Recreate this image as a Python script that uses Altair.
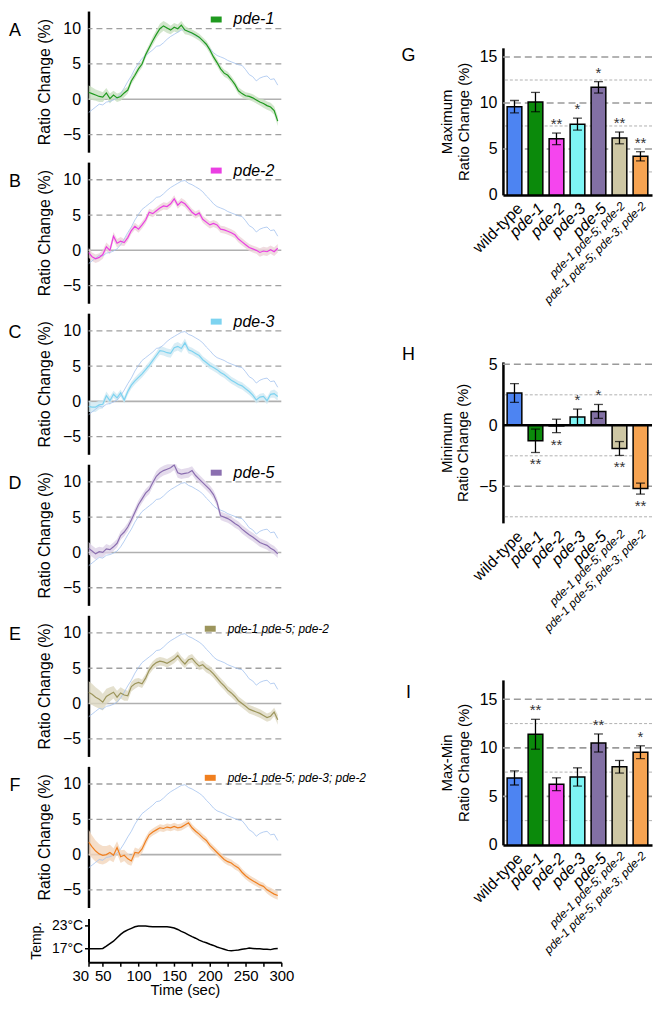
import altair as alt
import pandas as pd

FONT = "Liberation Sans"

# ---------------- time-series data (A-F) ----------------
time_s = list(range(30, 300, 5))

wild_type = [-1.9, -1.5, -1.1, -0.7, -0.8, -0.4, -0.3, -0.1, 0.2, 0.8,
             1.6, 2.5, 3.3, 4.3, 5.1, 5.8, 6.2, 6.6, 7.0, 7.5,
             7.6, 8.0, 8.5, 8.9, 9.2, 9.5, 9.8, 9.9, 9.5, 9.3,
             9.0, 8.7, 8.3, 7.7, 7.2, 6.6, 6.2, 6.0, 5.8, 5.5,
             5.3, 5.1, 4.9, 4.8, 4.2, 3.5, 3.2, 2.6, 3.0, 3.2,
             3.3, 2.8, 2.9, 2.0]

pde1 = [1.0, 0.8, 0.6, 0.4, 0.3, 0.9, 0.1, 0.6, 0.2, 0.4,
        0.9, 1.3, 2.6, 3.4, 4.3, 5.0, 6.3, 7.3, 8.3, 9.2,
        10.0, 10.4, 10.1, 9.8, 10.2, 10.0, 10.5, 9.8, 9.6, 9.4,
        9.1, 8.8, 8.3, 7.8, 7.0, 6.0, 5.2, 4.3, 3.7, 3.4,
        2.8, 2.1, 1.2, 0.8, 0.5, 0.4, 0.2, -0.1, -0.4, -0.6,
        -0.9, -1.1, -1.6, -3.1]
sem_pde1 = [1.0, 0.9, 0.8, 0.8, 0.7, 0.7, 0.7, 0.6, 0.6, 0.6,
            0.6, 0.5, 0.5, 0.5, 0.5, 0.5, 0.5, 0.5, 0.6, 0.6,
            0.7, 0.7, 0.7, 0.6, 0.6, 0.6, 0.6, 0.6, 0.5, 0.5,
            0.5, 0.5, 0.5, 0.5, 0.5, 0.5, 0.5, 0.5, 0.5, 0.5,
            0.5, 0.5, 0.5, 0.5, 0.5, 0.5, 0.5, 0.5, 0.5, 0.6,
            0.6, 0.6, 0.6, 0.7]

pde2 = [-0.3, -0.9, -1.2, -1.0, -0.6, 0.5, 0.0, 2.0, 1.0, 1.3,
        1.1, 1.8, 2.8, 3.4, 3.0, 3.6, 4.3, 5.4, 5.2, 5.6,
        6.0, 6.3, 6.2, 6.6, 7.3, 6.4, 6.9, 6.6, 6.0, 5.4,
        5.0, 5.3, 4.4, 4.0, 3.6, 3.8, 3.6, 3.0, 2.9, 2.7,
        2.5, 2.2, 1.6, 1.2, 0.8, 0.4, 0.2, 0.0, -0.3, -0.1,
        -0.2, 0.1, -0.2, 0.3]
sem_pde2 = [0.7, 0.6, 0.6, 0.6, 0.6, 0.6, 0.6, 0.6, 0.6, 0.6,
            0.5, 0.5, 0.5, 0.5, 0.5, 0.5, 0.5, 0.5, 0.5, 0.5,
            0.5, 0.5, 0.5, 0.5, 0.5, 0.5, 0.5, 0.5, 0.5, 0.5,
            0.5, 0.5, 0.5, 0.5, 0.5, 0.5, 0.5, 0.5, 0.5, 0.5,
            0.5, 0.5, 0.5, 0.5, 0.5, 0.5, 0.5, 0.5, 0.6, 0.6,
            0.6, 0.6, 0.6, 0.6]

pde3 = [-0.7, -0.8, -0.8, -0.5, -0.4, 0.8, 0.1, 1.0, 0.5, 1.2,
        0.2, 1.4, 2.3, 2.9, 3.4, 3.9, 4.5, 5.1, 5.8, 6.5,
        7.2, 7.1, 6.9, 6.8, 7.6, 7.8, 7.5, 8.3, 7.3, 7.1,
        6.8, 6.5, 5.9, 5.5, 5.1, 4.8, 4.5, 4.1, 3.8, 3.4,
        3.0, 2.7, 2.4, 2.2, 1.8, 1.4, 0.9, 0.2, 0.6, 0.7,
        0.1, 1.0, 1.1, 0.7]
sem_pde3 = [0.8, 0.7, 0.7, 0.6, 0.6, 0.6, 0.6, 0.5, 0.5, 0.5,
            0.5, 0.5, 0.5, 0.5, 0.5, 0.5, 0.5, 0.5, 0.5, 0.5,
            0.6, 0.6, 0.6, 0.6, 0.6, 0.6, 0.6, 0.6, 0.5, 0.5,
            0.5, 0.5, 0.5, 0.5, 0.5, 0.5, 0.5, 0.5, 0.5, 0.5,
            0.5, 0.5, 0.5, 0.5, 0.5, 0.5, 0.5, 0.5, 0.5, 0.5,
            0.5, 0.5, 0.6, 0.6]

pde5 = [0.6, 0.2, -0.2, 0.1, 0.0, 0.5, 0.4, 0.8, 1.3, 2.4,
        2.9, 3.6, 4.6, 5.7, 6.8, 7.6, 8.4, 8.9, 9.9, 10.8,
        11.3, 11.6, 11.8, 12.0, 12.4, 11.3, 11.1, 11.2, 11.3, 11.6,
        10.9, 10.4, 9.9, 9.4, 8.9, 8.2, 7.1, 5.2, 5.0, 4.8,
        4.5, 4.1, 3.8, 3.3, 2.9, 2.5, 2.2, 1.8, 1.4, 1.2,
        1.0, 0.6, 0.3, -0.2]
sem_pde5 = [0.9, 0.8, 0.8, 0.7, 0.7, 0.7, 0.6, 0.6, 0.6, 0.6,
            0.6, 0.6, 0.6, 0.6, 0.6, 0.6, 0.6, 0.6, 0.6, 0.7,
            0.7, 0.7, 0.7, 0.7, 0.7, 0.7, 0.7, 0.7, 0.7, 0.6,
            0.6, 0.6, 0.6, 0.6, 0.6, 0.6, 0.6, 0.6, 0.6, 0.6,
            0.6, 0.6, 0.6, 0.6, 0.6, 0.6, 0.6, 0.6, 0.6, 0.6,
            0.6, 0.6, 0.6, 0.6]

pde1_pde5_pde2 = [1.6, 1.3, 0.9, 0.6, 0.2, 1.0, 1.3, 1.6, 0.9, 1.5,
                  1.2, 1.1, 2.4, 2.8, 3.0, 2.8, 3.6, 4.7, 5.4, 5.8,
                  6.0, 5.9, 5.7, 6.0, 6.3, 6.8, 6.1, 5.6, 6.2, 6.4,
                  5.8, 5.3, 5.5, 5.0, 4.7, 4.2, 3.6, 3.0, 2.5, 1.9,
                  1.5, 1.0, 0.4, 0.0, -0.4, -0.8, -1.0, -1.2, -1.4, -1.7,
                  -2.0, -1.8, -1.2, -2.3]
sem_triple = [1.6, 1.5, 1.4, 1.3, 1.2, 1.1, 1.0, 0.9, 0.9, 0.8,
              0.8, 0.7, 0.7, 0.7, 0.6, 0.6, 0.6, 0.6, 0.6, 0.6,
              0.6, 0.6, 0.6, 0.6, 0.6, 0.6, 0.6, 0.6, 0.6, 0.6,
              0.6, 0.6, 0.6, 0.6, 0.6, 0.6, 0.6, 0.6, 0.6, 0.6,
              0.6, 0.6, 0.6, 0.6, 0.6, 0.6, 0.6, 0.6, 0.6, 0.6,
              0.6, 0.6, 0.6, 0.7]

pde1_pde5_pde3_pde2 = [1.8, 1.1, 0.5, 0.1, -0.1, 0.0, 0.3, -0.1, 1.0, -0.3,
                       -0.1, -0.6, -0.9, 0.3, 0.2, 0.8, 1.9, 2.8, 3.2, 3.5,
                       3.8, 3.7, 3.9, 3.8, 4.0, 3.8, 3.9, 4.2, 4.5, 3.8,
                       3.3, 2.9, 2.4, 2.0, 1.3, 0.8, 0.3, -0.2, -0.7, -1.0,
                       -1.2, -1.6, -1.9, -2.5, -3.0, -3.4, -3.7, -4.0, -4.3, -4.5,
                       -5.0, -5.3, -5.6, -5.8]
sem_quad = [1.8, 1.6, 1.5, 1.4, 1.3, 1.2, 1.1, 1.0, 0.9, 0.9,
            0.8, 0.8, 0.7, 0.7, 0.6, 0.6, 0.6, 0.5, 0.5, 0.5,
            0.5, 0.5, 0.5, 0.5, 0.5, 0.5, 0.5, 0.5, 0.5, 0.5,
            0.5, 0.5, 0.5, 0.5, 0.5, 0.5, 0.5, 0.5, 0.5, 0.5,
            0.5, 0.5, 0.5, 0.5, 0.5, 0.5, 0.5, 0.5, 0.5, 0.5,
            0.5, 0.6, 0.6, 0.6]

temperature = [16.8, 16.8, 16.8, 16.8, 16.9, 17.5, 18.2, 18.8, 19.7, 20.6,
               21.3, 21.8, 22.2, 22.6, 22.8, 22.8, 22.8, 22.7, 22.6, 22.6,
               22.6, 22.6, 22.6, 22.5, 22.3, 21.9, 21.4, 21.0, 20.5, 20.0,
               19.6, 19.1, 18.7, 18.4, 18.0, 17.7, 17.3, 17.0, 16.7, 16.4,
               16.3, 16.4, 16.5, 16.7, 16.8, 17.0, 16.9, 16.8, 16.8, 16.7,
               16.7, 16.6, 16.8, 16.9]

trace_ticks = [-5, 0, 5, 10]
trace_dashed_grid = [-5, 5, 10]
time_tick_values = [30, 50, 75, 100, 125, 150, 175, 200, 225, 250, 275, 300]
time_label_values = [30, 50, 100, 150, 200, 250, 300]
temp_ticks = [17, 23]

# ---------------- bar data (G-I) ----------------
strains = ["wild-type", "pde-1", "pde-2", "pde-3", "pde-5",
           "pde-1 pde-5; pde-2", "pde-1 pde-5; pde-3; pde-2"]
bar_colors = ["#4d84f2", "#0b8a0b", "#f545ee", "#7ef5f5", "#8270a4", "#cec7a4", "#f7a452"]

max_mean = [9.6, 10.1, 6.1, 7.7, 11.7, 6.2, 4.2]
max_err = [0.67, 1.05, 0.63, 0.65, 0.62, 0.64, 0.5]
max_sig = ["", "", "**", "*", "*", "**", "**"]

min_mean = [2.65, -1.27, -0.05, 0.68, 1.14, -1.9, -5.19]
min_err = [0.77, 0.96, 0.55, 0.65, 0.57, 0.57, 0.45]
min_sig = ["", "**", "**", "*", "*", "**", "**"]

range_mean = [6.9, 11.4, 6.25, 7.0, 10.5, 8.05, 9.55]
range_err = [0.73, 1.54, 0.66, 0.94, 0.93, 0.65, 0.66]
range_sig = ["", "**", "", "", "**", "", "*"]

PANEL_W = 194
PANEL_H = 142


def trace_panel(letter, label, values, sems, line_color, band_color,
                label_size, legend_x, legend_y):
    df = pd.DataFrame({"t": time_s, "v": values, "s": sems, "wt": wild_type})
    df["lo"] = df["v"] - df["s"]
    df["hi"] = df["v"] + df["s"]
    df["strain"] = label
    x = alt.X("t:Q", scale=alt.Scale(domain=[30, 300], nice=False, zero=False), axis=None)
    ysc = alt.Scale(domain=[-7.5, 12.5], nice=False, zero=False)
    yax = alt.Axis(values=trace_ticks, title="Ratio Change (%)", grid=False, ticks=False,
                   domainColor="black", domainWidth=2.5, labelFontSize=16,
                   titleFontSize=16, titleFontWeight="normal", labelPadding=8,
                   titlePadding=10, labelColor="black", titleColor="black")
    base = alt.Chart(df)
    dashed = alt.Chart(pd.DataFrame({"g": trace_dashed_grid})).mark_rule(
        color="#a0a0a0", strokeDash=[6, 4], strokeWidth=1.3
    ).encode(y=alt.Y("g:Q", scale=ysc, axis=yax))
    zero = alt.Chart(pd.DataFrame({"g": [0]})).mark_rule(
        color="#b0b0b0", strokeWidth=1.6
    ).encode(y=alt.Y("g:Q", scale=ysc, axis=yax))
    band = base.mark_area(color=band_color, opacity=0.8, clip=True).encode(
        x=x, y=alt.Y("lo:Q", scale=ysc, axis=yax), y2="hi:Q")
    wt = base.mark_line(color="#a4c3ee", strokeWidth=0.8, clip=True).encode(
        x=x, y=alt.Y("wt:Q", scale=ysc, axis=yax))
    line = base.mark_line(clip=True).encode(
        x=x, y=alt.Y("v:Q", scale=ysc, axis=yax),
        strokeWidth=alt.value(1.2),
        color=alt.Color("strain:N", scale=alt.Scale(domain=[label], range=[line_color]),
                        legend=alt.Legend(orient="none", legendX=legend_x, legendY=legend_y,
                                          title=None, symbolType="stroke", symbolSize=121,
                                          symbolStrokeWidth=6, labelFontSize=label_size,
                                          labelFontStyle="italic", labelFont=FONT,
                                          labelColor="black", padding=0, labelOffset=9)))
    let = alt.Chart(pd.DataFrame({"p": [letter]})).mark_text(
        fontSize=18, font=FONT, align="center", baseline="middle", color="black"
    ).encode(text="p:N", x=alt.value(-74), y=alt.value(20))
    return alt.layer(dashed, zero, band, wt, line, let).properties(width=PANEL_W, height=PANEL_H)


panels = [
    trace_panel("A", "pde-1", pde1, sem_pde1, "#1f9a1f", "#c8e0c0", 16, 120, 0),
    trace_panel("B", "pde-2", pde2, sem_pde2, "#ea3fe3", "#ecd3d8", 16, 120, 0),
    trace_panel("C", "pde-3", pde3, sem_pde3, "#7dd3f0", "#d0e8f2", 16, 120, 0),
    trace_panel("D", "pde-5", pde5, sem_pde5, "#8b6fb0", "#ddd2e7", 16, 120, 0),
    trace_panel("E", "pde-1 pde-5; pde-2", pde1_pde5_pde2, sem_triple, "#9c955c", "#ddd8c2", 12, 114, 5),
    trace_panel("F", "pde-1 pde-5; pde-3; pde-2", pde1_pde5_pde3_pde2, sem_quad, "#f07f1f", "#f3d6bc", 12, 114, 3),
]

tdf = pd.DataFrame({"t": time_s, "temp": temperature})
label_test = " || ".join(f"datum.value == {v}" for v in time_label_values)
temp_panel = alt.Chart(tdf).mark_line(color="black", strokeWidth=1.5).encode(
    x=alt.X("t:Q", scale=alt.Scale(domain=[30, 300], nice=False, zero=False),
            axis=alt.Axis(values=time_tick_values, labelExpr=f"({label_test}) ? datum.label : ''",
                          title="Time  (sec)", titleFontSize=15, titleFontWeight="normal",
                          labelFontSize=15, domainColor="black", domainWidth=2, tickColor="black",
                          tickSize=4, tickWidth=1.5, labelPadding=2, titlePadding=0, grid=False,
                          labelColor="black", titleColor="black", labelFlush=False,
                          labelOverlap=False,
                          labelAlign={"condition": {"test": "datum.value == 30", "value": "right"},
                                      "value": "center"})),
    y=alt.Y("temp:Q", scale=alt.Scale(domain=[13.3, 24.8], nice=False, zero=False),
            axis=alt.Axis(values=temp_ticks, labelExpr="datum.value + '°C'", title="Temp.",
                          titleFontSize=14, titleFontWeight="normal", labelFontSize=14,
                          domainColor="black", domainWidth=2, tickColor="black", tickSize=4,
                          tickWidth=1.5, labelPadding=2, titlePadding=8, grid=False,
                          labelColor="black", titleColor="black")),
).properties(width=PANEL_W, height=44)

left = alt.vconcat(*panels, temp_panel, spacing=10).resolve_scale(
    color="independent", x="independent", y="independent")

BAR_W = 150


def bar_panel(letter, means, errs, sigs, ydomain, yvalues, major, minor, title,
              height, letter_y, zero_line=False):
    df = pd.DataFrame({"strain": strains, "mean": means, "err": errs, "sig": sigs})
    df["lo"] = df["mean"] - df["err"]
    df["hi"] = df["mean"] + df["err"]
    df["anchor"] = [h if m >= 0 else l for m, h, l in zip(df["mean"], df["hi"], df["lo"])]
    df["up"] = [m >= 0 for m in df["mean"]]
    x = alt.X("strain:N", sort=strains,
              scale=alt.Scale(paddingInner=0.3, paddingOuter=0.2),
              axis=alt.Axis(title=None, labelAngle=-45, ticks=False, labelPadding=5,
                            domain=not zero_line, domainColor="black", domainWidth=2.5,
                            labelColor="black", labelFont=FONT, labelLimit=300,
                            labelFontSize={"condition": {"test": "length(datum.label) > 9", "value": 12}, "value": 16},
                            labelFontStyle={"condition": {"test": "datum.label == 'wild-type'", "value": "normal"}, "value": "italic"}))
    ysc = alt.Scale(domain=ydomain, nice=False, zero=False)
    yax = alt.Axis(values=yvalues, title=title, grid=False, ticks=False, domainColor="black",
                   domainWidth=2.5, labelFontSize=16, titleFontSize=15, titleFontWeight="normal",
                   labelPadding=6, titlePadding=8, labelColor="black", titleColor="black")
    base = alt.Chart(df)
    g_major = alt.Chart(pd.DataFrame({"g": major})).mark_rule(
        color="#9a9a9a", strokeDash=[7, 4], strokeWidth=1.6
    ).encode(y=alt.Y("g:Q", scale=ysc, axis=yax))
    g_minor = alt.Chart(pd.DataFrame({"g": minor})).mark_rule(
        color="#b0b0b0", strokeDash=[3, 2], strokeWidth=1
    ).encode(y=alt.Y("g:Q", scale=ysc, axis=yax))
    bars = base.mark_bar(stroke="black", strokeWidth=1.5).encode(
        x=x, y=alt.Y("mean:Q", scale=ysc, axis=yax),
        color=alt.Color("strain:N", scale=alt.Scale(domain=strains, range=bar_colors), legend=None))
    err = base.mark_rule(color="black", strokeWidth=1.3).encode(
        x=x, y=alt.Y("lo:Q", scale=ysc, axis=yax), y2="hi:Q")
    cap_lo = base.mark_tick(color="black", thickness=1.3, size=9).encode(
        x=x, y=alt.Y("lo:Q", scale=ysc, axis=yax))
    cap_hi = base.mark_tick(color="black", thickness=1.3, size=9).encode(
        x=x, y=alt.Y("hi:Q", scale=ysc, axis=yax))
    star_up = base.transform_filter("datum.up && datum.sig != ''").mark_text(
        fontSize=15, color="#333333", baseline="bottom", dy=-1, font=FONT
    ).encode(x=x, y=alt.Y("anchor:Q", scale=ysc, axis=yax), text="sig:N")
    star_dn = base.transform_filter("!datum.up && datum.sig != ''").mark_text(
        fontSize=15, color="#333333", baseline="top", dy=5, font=FONT
    ).encode(x=x, y=alt.Y("anchor:Q", scale=ysc, axis=yax), text="sig:N")
    let = alt.Chart(pd.DataFrame({"p": [letter]})).mark_text(
        fontSize=18, font=FONT, align="center", baseline="middle", color="black"
    ).encode(text="p:N", x=alt.value(-95), y=alt.value(letter_y))
    layers = [g_major, g_minor, bars, err, cap_lo, cap_hi, star_up, star_dn, let]
    if zero_line:
        zl = alt.Chart(pd.DataFrame({"g": [0]})).mark_rule(color="black", strokeWidth=2.5).encode(
            y=alt.Y("g:Q", scale=ysc, axis=yax))
        layers.append(zl)
    return alt.layer(*layers).properties(width=BAR_W, height=height)


G = bar_panel("G", max_mean, max_err, max_sig, [0, 16], [0, 5, 10, 15], [5, 10, 15],
              [2.5, 7.5, 12.5], ["Maximum", "Ratio Change (%)"], 148, 8)
H = bar_panel("H", min_mean, min_err, min_sig, [-8, 5.2], [-5, 0, 5], [-5, 5],
              [-7.5, -2.5, 2.5], ["Minimum", "Ratio Change (%)"], 162, -7, zero_line=True)
I = bar_panel("I", range_mean, range_err, range_sig, [0, 17], [0, 5, 10, 15], [5, 10, 15],
              [2.5, 7.5, 12.5], ["Max-Min", "Ratio Change (%)"], 166, 13)

spacer = alt.Chart(pd.DataFrame({"s": [0]})).mark_point(opacity=0).properties(width=BAR_W, height=10)

top_right = alt.vconcat(spacer, G, spacing=26).resolve_scale(
    color="independent", x="independent", y="independent")
bottom_right = alt.vconcat(H, I, spacing=46).resolve_scale(
    color="independent", x="independent", y="independent")
right = alt.vconcat(top_right, bottom_right, spacing=40).resolve_scale(
    color="independent", x="independent", y="independent")

chart = alt.hconcat(left, right, spacing=34).resolve_scale(
    color="independent", x="independent", y="independent"
).properties(padding=0, background="white").configure_view(stroke=None).configure_axis(
    labelFont=FONT, titleFont=FONT).configure_text(font=FONT)

chart.save("out.html", embed_options={"renderer": "svg", "actions": False})
